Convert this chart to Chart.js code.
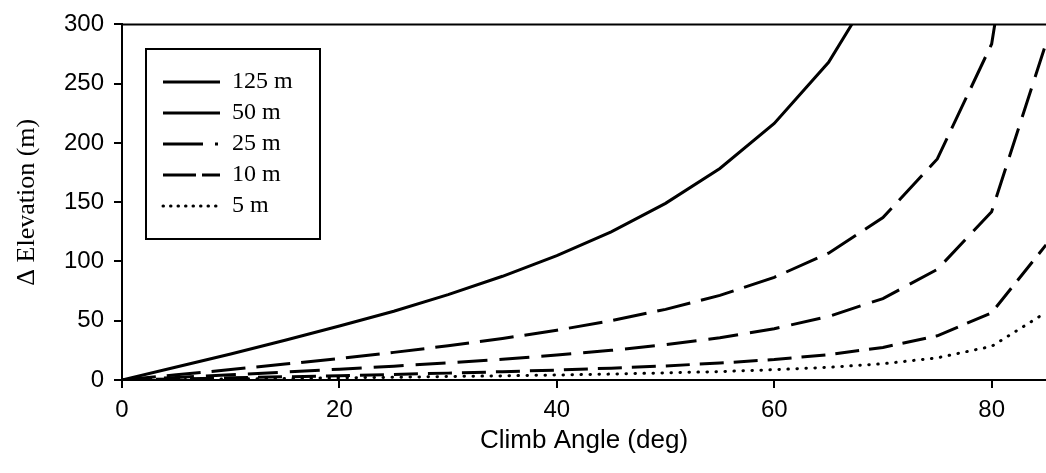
<!DOCTYPE html>
<html>
<head>
<meta charset="utf-8">
<script src="https://cdn.jsdelivr.net/npm/chart.js@4.4.1/dist/chart.umd.min.js"></script>
<style>
  html, body { margin: 0; padding: 0; background: #fff; }
  #wrap { width: 1046px; height: 473px; position: relative; }
</style>
</head>
<body>
<div id="wrap"><canvas id="grafico"></canvas></div>
<script>
// Cambio de elevación según ángulo de subida, por distancia horizontal
var angulos = [0, 5, 10, 15, 20, 25, 30, 35, 40, 45, 50, 55, 60, 65, 70, 75, 80, 85];
var elev125 = [0, 11, 22, 33.5, 45.5, 58, 72, 87.5, 105, 125, 149, 178.5, 216.5, 268, 343, null, null, null];
var elev50  = [0, 4.4, 8.8, 13.4, 18.2, 23.3, 28.9, 35, 42, 50, 59.6, 71.4, 86.6, 107, 137, 186.5, 283.5, 570];
var elev25  = [0, 2.2, 4.4, 6.7, 9.1, 11.7, 14.4, 17.5, 21, 25, 29.8, 35.7, 43.3, 53.6, 68.7, 93.3, 142, 284];
var elev10  = [0, 0.9, 1.8, 2.7, 3.6, 4.7, 5.8, 7, 8.4, 10, 11.9, 14.3, 17.3, 21.4, 27.5, 37.3, 56.7, 114];
var elev5   = [0, 0.4, 0.9, 1.3, 1.8, 2.3, 2.9, 3.5, 4.2, 5, 6, 7.1, 8.7, 10.7, 13.7, 18.7, 28.4, 57];
var etiquetas = ['125 m', '50 m', '25 m', '10 m', '5 m'];
var ticksX = [0, 20, 40, 60, 80];
var ticksY = [0, 50, 100, 150, 200, 250, 300];

function puntos(valores) {
  return angulos.map(function (a, i) { return { x: a, y: valores[i] }; });
}

function serie(i, valores, dash, muestra, cap) {
  return {
    label: etiquetas[i], data: puntos(valores), borderColor: '#000', backgroundColor: '#000',
    borderWidth: 3, borderDash: dash, borderCapStyle: cap || 'butt', pointRadius: 0,
    tension: 0, spanGaps: false, muestra: muestra, capMuestra: cap || 'butt',
  };
}

// marco superior y leyenda con recuadro
var marco = {
  id: 'marco',
  afterDraw: function (chart) {
    var ctx = chart.ctx, a = chart.chartArea;
    ctx.save();
    ctx.strokeStyle = '#000';
    ctx.lineWidth = 2;
    ctx.beginPath();
    ctx.moveTo(a.left, a.top);
    ctx.lineTo(a.right, a.top);
    ctx.stroke();

    ctx.fillStyle = '#fff';
    ctx.fillRect(146, 49, 174, 190);
    ctx.strokeRect(146, 49, 174, 190);
    ctx.font = '24px "Liberation Serif", "Times New Roman", serif';
    ctx.textBaseline = 'middle';
    ctx.fillStyle = '#000';
    chart.data.datasets.forEach(function (ds, i) {
      var y = 82 + i * 31;
      ctx.lineWidth = 3;
      ctx.setLineDash(ds.muestra);
      ctx.lineCap = ds.capMuestra;
      ctx.beginPath();
      ctx.moveTo(163, y);
      ctx.lineTo(220, y);
      ctx.stroke();
      ctx.setLineDash([]);
      ctx.fillText(ds.label, 232, y);
    });
    ctx.restore();
  },
};

var fuenteNum = { family: '"Liberation Sans", Arial, sans-serif', size: 24 };

new Chart(document.getElementById('grafico').getContext('2d'), {
  type: 'line',
  data: {
    datasets: [
      serie(0, elev125, [], []),
      serie(1, elev50, [34, 11], []),
      serie(2, elev25, [30, 12], [40, 12, 3, 100]),
      serie(3, elev10, [24, 10], [33, 6, 20, 100]),
      serie(4, elev5, [0.5, 8.5], [0.5, 7], 'round'),
    ],
  },
  options: {
    responsive: true,
    maintainAspectRatio: false,
    animation: false,
    layout: { padding: { top: 23, right: 0, left: 0, bottom: 0 } },
    plugins: { legend: { display: false }, tooltip: { enabled: false } },
    scales: {
      x: {
        type: 'linear', min: 0, max: 85,
        afterBuildTicks: function (s) { s.ticks = ticksX.map(function (v) { return { value: v }; }); },
        afterFit: function (s) { s.height = 93; },
        grid: { drawOnChartArea: false, color: '#000', lineWidth: 2, tickLength: 8 },
        border: { color: '#000', width: 2 },
        ticks: { color: '#000', font: fuenteNum, padding: 8, maxRotation: 0 },
        title: {
          display: true, text: 'Climb Angle (deg)', color: '#000',
          font: { family: '"Liberation Sans", Arial, sans-serif', size: 26 }, padding: { bottom: 17 },
        },
      },
      y: {
        type: 'linear', min: 0, max: 300,
        afterBuildTicks: function (s) { s.ticks = ticksY.map(function (v) { return { value: v }; }); },
        afterFit: function (s) { s.width = 122; },
        grid: { drawOnChartArea: false, color: '#000', lineWidth: 2, tickLength: 8 },
        border: { color: '#000', width: 2 },
        ticks: { color: '#000', font: fuenteNum, padding: 10 },
        title: {
          display: true, text: 'Δ Elevation (m)', color: '#000',
          font: { family: '"Liberation Serif", "Times New Roman", serif', size: 26 }, padding: { top: 12 },
        },
      },
    },
  },
  plugins: [marco],
});
</script>
</body>
</html>
